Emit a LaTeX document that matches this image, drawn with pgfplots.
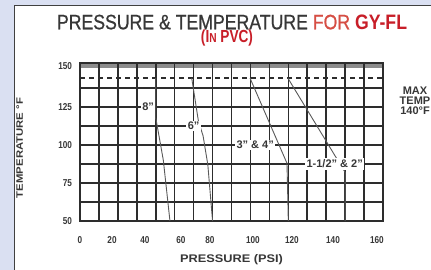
\documentclass[border=0pt]{standalone}
\usepackage{pgfplots}
\pgfplotsset{compat=1.18}
\usepackage{fontspec}
\usepackage{graphicx}
\setmainfont{Liberation Sans}
\newfontfamily\cond{Liberation Sans}[FakeStretch=0.82]
\newfontfamily\condmed{Liberation Sans}[FakeStretch=0.82, FakeBold=0.7]
\definecolor{bg}{RGB}{218,224,242}
\definecolor{gridc}{RGB}{45,45,45}
\definecolor{txt}{RGB}{55,55,55}
\definecolor{redA}{RGB}{214,78,68}
\definecolor{redB}{RGB}{200,30,40}
\definecolor{curve}{RGB}{90,90,90}
\begin{document}
\begin{tikzpicture}[x=1pt,y=1pt]
\fill[bg] (0pt,0pt) rectangle (431pt,-270pt);
\filldraw[overlay, fill=white, draw=black!75, line width=0.8pt] (14pt,-5pt) rectangle (445pt,-285pt);
\fill[black!45] (80pt,-63pt) rectangle (383pt,-68.5pt);
% title
\node[anchor=base, inner sep=0pt, text=txt] at (232pt,-29.3pt)
  {\resizebox{350pt}{14.6pt}{\condmed PRESSURE \& TEMPERATURE \textcolor{redA}{FOR} \textcolor{redB}{\cond\bfseries GY-FL}}};
\node[anchor=base, inner sep=0pt, text=redB] at (227pt,-42.5pt)
  {\scalebox{0.78}[1]{\fontsize{17.5}{17.5}\selectfont\bfseries (I{\fontsize{13}{13}\selectfont N} PVC)}};
% axis labels
\node[anchor=base, inner sep=0pt, text=txt] at (231.5pt,-262.5pt)
  {\resizebox{103pt}{8pt}{\bfseries PRESSURE (PSI)}};
\node[rotate=90, anchor=base, inner sep=0pt, text=txt] at (23pt,-148pt)
  {\resizebox{100pt}{6.5pt}{\bfseries TEMPERATURE °F}};
\node[overlay, align=center, inner sep=0pt, text=txt, font=\fontsize{11}{10}\selectfont\bfseries] at (415pt,-101pt)
  {MAX\\TEMP\\140°F};
\begin{axis}[
  at={(80pt,-221pt)}, anchor=south west,
  scale only axis, width=303pt, height=158pt,
  xmin=0, xmax=160, ymin=50, ymax=154,
  axis line style={gridc, line width=1.8pt},
  xtick={0,16.9,34.3,53.3,68.6,91.3,111.9,133.6,156.8},
  xticklabels={0,20,40,60,80,100,120,140,160},
  minor xtick={10,20,...,150},
  ytick={50,75,100,125,152},
  yticklabels={50,75,100,125,150},
  minor ytick={62.5,75,87.5,100,112.5,125,137.5},
  xminorgrids=true, yminorgrids=true, xmajorgrids=false, ymajorgrids=false,
  minor grid style={gridc, line width=1.6pt},
  major tick length=0pt, minor tick length=0pt,
  tick label style={font=\cond\bfseries\fontsize{10}{10}\selectfont, text=txt},
  xticklabel style={yshift=-12pt},
  yticklabel style={xshift=-4.5pt},
]
\addplot[gridc, line width=1.4pt, dash pattern=on 5pt off 4pt] coordinates {(0,144) (160,144)};
% 8"
\addplot[curve, line width=0.9pt] coordinates {(40,144) (40,118) (44,90) (47.5,50)};
% 6"
\addplot[curve, line width=0.9pt] coordinates {(59,144) (62.5,116) (65,106) (67.5,87) (70,50)};
% 3" & 4"
\addplot[curve, line width=0.9pt] coordinates {(89.8,144) (109.3,88) (110,50)};
% 1-1/2" & 2"
\addplot[curve, line width=0.9pt] coordinates {(109.8,144) (140,82) (140,50)};
\node[fill=white, inner sep=1.5pt, text=txt, font=\bfseries\fontsize{11}{11}\selectfont] at (axis cs:36,125) {8"};
\node[fill=white, inner sep=1.5pt, text=txt, font=\bfseries\fontsize{11}{11}\selectfont] at (axis cs:60,112.5) {6"};
\node[fill=white, inner sep=1.5pt, text=txt, font=\bfseries\fontsize{11}{11}\selectfont] at (axis cs:92.5,100) {3" \& 4"};
\node[fill=white, inner sep=1.5pt, text=txt, font=\bfseries\fontsize{11}{11}\selectfont] at (axis cs:134.5,87.5) {1-1/2" \& 2"};
\end{axis}
\end{tikzpicture}
\end{document}
